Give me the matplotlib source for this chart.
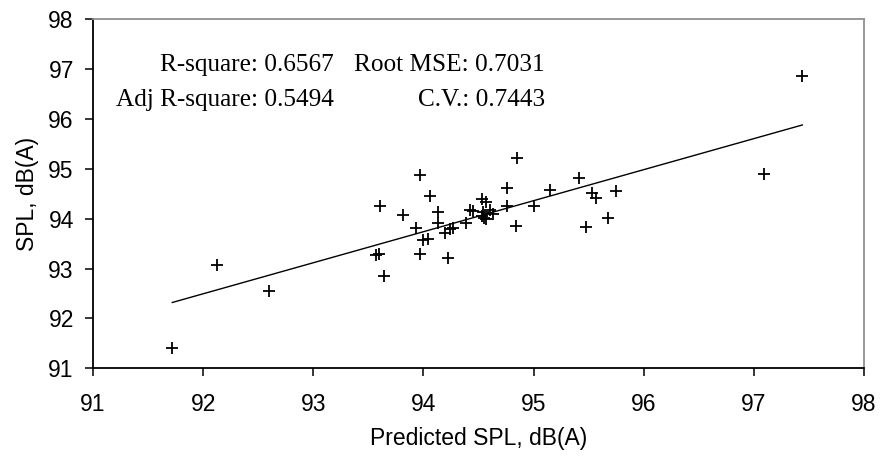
import matplotlib
matplotlib.use("Agg")
import matplotlib.pyplot as plt

predicted = [94.85, 93.97, 95.41, 94.06, 94.76, 95.15, 93.61, 94.53, 94.57,
             94.13, 93.81, 94.42, 94.45, 94.76, 95.00, 94.54, 94.60, 94.63,
             94.53, 94.55, 94.57, 94.13, 94.39, 93.93, 94.27, 94.24, 94.20,
             94.84, 94.00, 94.04, 93.97, 93.57, 93.60, 94.22, 93.64,
             95.53, 95.57, 95.75, 95.68, 95.48, 97.09,
             92.13, 92.60, 91.72, 97.44]
measured = [95.22, 94.88, 94.81, 94.46, 94.61, 94.58, 94.26, 94.39, 94.34,
            94.14, 94.07, 94.17, 94.16, 94.26, 94.26, 94.14, 94.17, 94.09,
            94.06, 94.02, 94.00, 93.91, 93.91, 93.81, 93.82, 93.79, 93.71,
            93.86, 93.57, 93.59, 93.29, 93.27, 93.29, 93.21, 92.86,
            94.52, 94.41, 94.56, 94.01, 93.84, 94.90,
            93.07, 92.56, 91.40, 96.86]

# regression line end points
fit_x = [91.72, 97.44]
fit_y = [92.32, 95.88]

stats_left = ["R-square: 0.6567", "Adj R-square: 0.5494"]
stats_right = ["Root MSE: 0.7031", "C.V.: 0.7443"]

sans = "Liberation Sans"
serif = "Liberation Serif"

fig = plt.figure(figsize=(8.8, 4.58), dpi=100)
ax = fig.add_axes([0.1057, 0.1959, 0.8761, 0.762])

ax.plot(fit_x, fit_y, color="black", lw=1.0)
ax.plot(predicted, measured, linestyle="none", marker="+", color="black",
        markersize=8, markeredgewidth=1.3)

ax.set_xlim(91, 98)
ax.set_ylim(91, 98)
ax.set_xticks(range(91, 99))
ax.set_yticks(range(91, 99))

for side in ["top", "right"]:
    ax.spines[side].set_color("#909090")
    ax.spines[side].set_linewidth(1.3)
for side in ["left", "bottom"]:
    ax.spines[side].set_color("black")
    ax.spines[side].set_linewidth(1.3)

ax.tick_params(axis="both", direction="out", length=5.8, width=1.1,
               labelsize=16.5, top=False, right=False)
ax.tick_params(axis="x", pad=12)
ax.tick_params(axis="y", pad=8)
for lab in ax.get_xticklabels() + ax.get_yticklabels():
    lab.set_fontfamily(sans)

ax.set_xlabel("Predicted SPL, dB(A)", fontsize=16.5, family=sans, labelpad=8)
ax.set_ylabel("SPL, dB(A)", fontsize=16.5, family=sans, labelpad=7)

for i, (a, b) in enumerate(zip(stats_left, stats_right)):
    yy = 0.869 - i * 0.1
    ax.text(0.3126, yy, a, transform=ax.transAxes, ha="right", va="center",
            fontsize=18.2, family=serif)
    ax.text(0.586, yy, b, transform=ax.transAxes, ha="right", va="center",
            fontsize=18.2, family=serif)

fig.savefig("out.png", dpi=100)
